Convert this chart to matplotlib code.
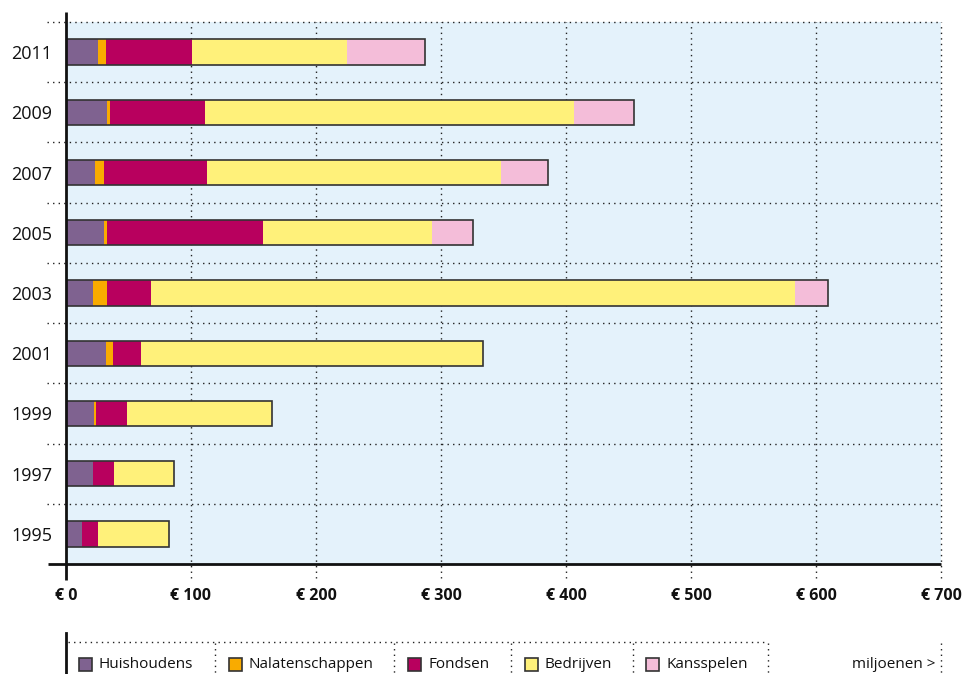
import matplotlib
matplotlib.use('Agg')
import matplotlib.pyplot as plt
import numpy as np
from matplotlib.patches import Rectangle
from matplotlib.lines import Line2D

plt.rcParams['font.family'] = ['Open Sans', 'DejaVu Sans']

years = ['1995', '1997', '1999', '2001', '2003', '2005', '2007', '2009', '2011']
series = ['Huishoudens', 'Nalatenschappen', 'Fondsen', 'Bedrijven', 'Kansspelen']
huishoudens = [12.8, 21.6, 22.4, 32.0, 21.6, 30.4, 23.2, 32.8, 25.3]
nalatenschappen = [0.0, 0.0, 1.6, 5.6, 11.2, 2.4, 7.2, 2.4, 6.7]
fondsen = [12.8, 16.8, 24.8, 22.4, 35.2, 124.8, 82.4, 76.0, 68.8]
bedrijven = [57.1, 48.3, 116.0, 273.6, 515.4, 135.2, 235.0, 295.0, 124.0]
kansspelen = [0.0, 0.0, 0.0, 0.0, 26.2, 33.2, 38.0, 47.8, 62.2]
xticks = [0, 100, 200, 300, 400, 500, 600, 700]
xlabels = ['€ 0', '€ 100', '€ 200', '€ 300', '€ 400', '€ 500', '€ 600', '€ 700']
colors = ['#7f6290', '#f9ab00', '#b8005e', '#fff17a', '#f4bdd9']
unit = 'miljoenen >'

W, H = 965, 674
fig = plt.figure(figsize=(W / 100, H / 100), dpi=100)
ax = fig.add_axes([66 / W, 1 - 564 / H, 875 / W, 542 / H])
ax.set_facecolor('#e4f2fb')

data = np.array([huishoudens, nalatenschappen, fondsen, bedrijven, kansspelen])
y = np.arange(len(years))
left = np.zeros(len(years))
bh = 0.42
for vals, c in zip(data, colors):
    ax.barh(y, vals, left=left, height=bh, color=c, edgecolor='none', zorder=3)
    left = left + vals
ax.barh(y, left, height=bh, fill=False, edgecolor='#333333', linewidth=1.2, zorder=4)

ax.set_xlim(0, 700)
ax.set_ylim(-0.5, len(years) - 0.5)
for s in ax.spines.values():
    s.set_visible(False)

dot = (0, (1, 3))
# horizontal grid lines between rows
for k in range(len(years)):
    ax.plot([-15, 700], [k + 0.5, k + 0.5], color='#222222', lw=1, ls=dot,
            clip_on=False, zorder=2)
# vertical grid lines
for xv in xticks[1:]:
    ax.plot([xv, xv], [-0.74, len(years) - 0.5], color='#222222', lw=1, ls=dot,
            clip_on=False, zorder=2)
# axes lines
ax.plot([0, 0], [-0.77, len(years) - 0.33], color='#111111', lw=2, clip_on=False,
        zorder=5, solid_capstyle='butt')
ax.plot([-14.5, 700], [-0.5, -0.5], color='#111111', lw=2, clip_on=False,
        zorder=5, solid_capstyle='butt')

ax.set_yticks(y)
ax.set_yticklabels(years, fontsize=13, color='#111111')
ax.set_xticks(xticks)
ax.set_xticklabels(xlabels, fontsize=11.5, fontweight='bold', color='#111111')
ax.tick_params(axis='y', length=0, pad=10)
ax.tick_params(axis='x', length=0, pad=17)

# legend strip
def fx(px):
    return px / W

def fy(py):
    return 1 - py / H

fig.add_artist(Line2D([fx(66), fx(66)], [fy(633), fy(674)], color='#111111', lw=2))
fig.add_artist(Line2D([fx(68), fx(768)], [fy(642), fy(642)], color='#222222', lw=1, ls=dot))
for sx in [215, 394, 511, 633, 768, 941]:
    fig.add_artist(Line2D([fx(sx), fx(sx)], [fy(643), fy(674)], color='#222222', lw=1, ls=dot))
patch_x = [79, 229, 408, 525, 646]
for name, c, px in zip(series, colors, patch_x):
    fig.add_artist(Rectangle((fx(px), fy(671)), 13 / W, 13 / H, facecolor=c,
                             edgecolor='#333333', lw=1.2, transform=fig.transFigure))
    fig.text(fx(px + 20), fy(664), name, fontsize=11, va='center', ha='left', color='#111111')
fig.text(fx(935), fy(664), unit, fontsize=11, va='center', ha='right', color='#111111')

fig.savefig('out.png', dpi=100)
